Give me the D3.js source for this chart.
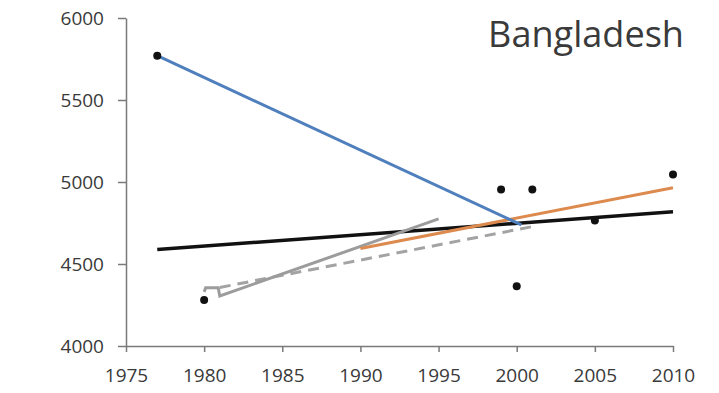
<!DOCTYPE html>
<html>
<head>
<meta charset="utf-8">
<script src="https://cdn.jsdelivr.net/npm/d3@7"></script>
<style>
  body { margin: 0; background: #fff; }
  svg { display: block; }
  .axis text { font-family: "Open Sans", sans-serif; font-size: 19px; fill: #3a3a3a; }
  .axis path, .axis line { stroke: #7a7a7a; stroke-width: 1.5; }
</style>
</head>
<body>
<div id="chart"></div>
<script>
// observed points (black dots)
const obsYears = [1977, 1980, 1999, 2000, 2001, 2005, 2010];
const obsValues = [5770, 4280, 4955, 4365, 4955, 4765, 5045];

// fitted trend lines
const blueYears = [1977, 2000.3];
const blueValues = [5770, 4738];

const blackYears = [1977, 2010];
const blackValues = [4588, 4818];

const orangeYears = [1990, 2010];
const orangeValues = [4595, 4965];

const graySolidYears = [1980.0, 1980.1, 1980.9, 1981.0, 1995];
const graySolidValues = [4330, 4355, 4355, 4305, 4775];

const grayDashYears = [1981, 2001];
const grayDashValues = [4357, 4728];

const xTicks = [1975, 1980, 1985, 1990, 1995, 2000, 2005, 2010];
const yTicks = [4000, 4500, 5000, 5500, 6000];

const title = "Bangladesh";

const width = 719, height = 393;

const svg = d3.select("#chart").append("svg")
    .attr("width", width)
    .attr("height", height);

const x = d3.scaleLinear().domain([1975, 2010]).range([126, 673]);
const y = d3.scaleLinear().domain([4000, 6000]).range([346, 18]);

// axes
svg.append("g")
    .attr("class", "axis")
    .attr("transform", `translate(0,${y(4000)})`)
    .call(d3.axisBottom(x).tickValues(xTicks).tickFormat(d3.format("d"))
        .tickSize(6).tickSizeOuter(0).tickPadding(17));

svg.append("g")
    .attr("class", "axis")
    .attr("transform", `translate(${x(1975)},0)`)
    .call(d3.axisLeft(y).tickValues(yTicks).tickFormat(d3.format("d"))
        .tickSize(8).tickSizeOuter(0).tickPadding(14));

const line = d3.line().x(d => x(d[0])).y(d => y(d[1]));
const pairs = (xs, ys) => xs.map((v, i) => [v, ys[i]]);

// black trend
svg.append("path")
    .datum(pairs(blackYears, blackValues))
    .attr("d", line)
    .attr("fill", "none")
    .attr("stroke", "#111")
    .attr("stroke-width", 3.5);

// gray dashed
svg.append("path")
    .datum(pairs(grayDashYears, grayDashValues))
    .attr("d", line)
    .attr("fill", "none")
    .attr("stroke", "#a3a3a3")
    .attr("stroke-width", 3)
    .attr("stroke-dasharray", "11,7");

// gray solid
svg.append("path")
    .datum(pairs(graySolidYears, graySolidValues))
    .attr("d", line)
    .attr("fill", "none")
    .attr("stroke", "#9c9c9c")
    .attr("stroke-width", 3);

// orange
svg.append("path")
    .datum(pairs(orangeYears, orangeValues))
    .attr("d", line)
    .attr("fill", "none")
    .attr("stroke", "#dd8a4f")
    .attr("stroke-width", 3);

// blue
svg.append("path")
    .datum(pairs(blueYears, blueValues))
    .attr("d", line)
    .attr("fill", "none")
    .attr("stroke", "#4f7fbd")
    .attr("stroke-width", 3);

// dots
svg.selectAll("circle.obs")
    .data(pairs(obsYears, obsValues))
    .enter().append("circle")
    .attr("class", "obs")
    .attr("cx", d => x(d[0]))
    .attr("cy", d => y(d[1]))
    .attr("r", 4)
    .attr("fill", "#111");

// title, sized to fit its width in the reference
const t = svg.append("text")
    .attr("x", 684)
    .attr("y", 47)
    .attr("text-anchor", "end")
    .attr("font-family", "'Open Sans', sans-serif")
    .attr("font-size", 30)
    .attr("fill", "#3a3a3a")
    .text(title);
const w = t.node().getComputedTextLength();
t.attr("font-size", 30 * 196 / w);
</script>
</body>
</html>
